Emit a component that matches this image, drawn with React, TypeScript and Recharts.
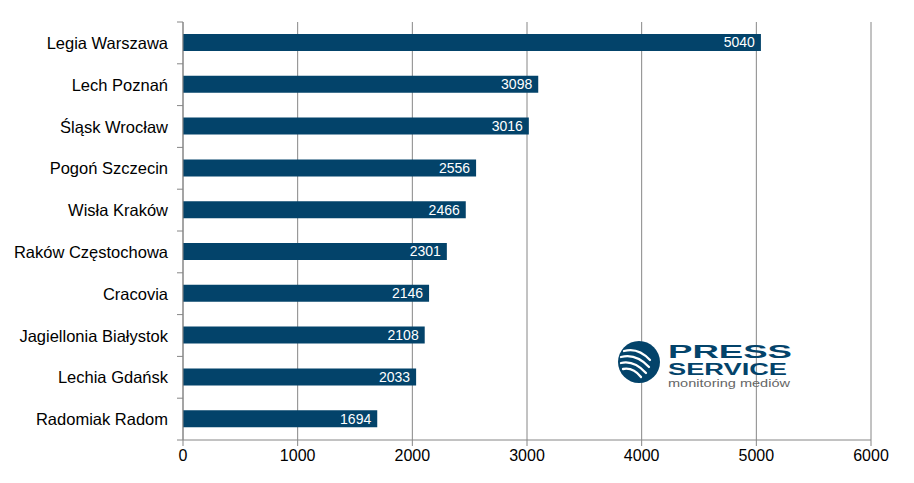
import { BarChart, Bar, XAxis, YAxis, CartesianGrid, LabelList } from "recharts";

const teams = [
  "Legia Warszawa",
  "Lech Poznań",
  "Śląsk Wrocław",
  "Pogoń Szczecin",
  "Wisła Kraków",
  "Raków Częstochowa",
  "Cracovia ",
  "Jagiellonia Białystok",
  "Lechia Gdańsk",
  "Radomiak Radom",
];
const mentions = [5040, 3098, 3016, 2556, 2466, 2301, 2146, 2108, 2033, 1694];
const xTicks = [0, 1000, 2000, 3000, 4000, 5000, 6000];

const data = teams.map((team, i) => ({ team, value: mentions[i] }));

const WIDTH = 914;
const HEIGHT = 483;
const MARGIN = { top: 22, right: 43, bottom: 13, left: 0 };
const X_AXIS_H = 30;
const BAND = (HEIGHT - MARGIN.top - MARGIN.bottom - X_AXIS_H) / teams.length;
const GRID = "#868686";
const BAR = "#03436a";
const FONT = "'Liberation Sans', Arial, sans-serif";

function CategoryTick(props: any) {
  const { x, y, payload, index } = props;
  const ax = x + 15;
  return (
    <g>
      <text x={x} y={y} dy={6} textAnchor="end" fontSize={16.5} fill="#000" fontFamily={FONT}>
        {payload.value}
      </text>
      <line x1={ax - 6} x2={ax} y1={y - BAND / 2} y2={y - BAND / 2} stroke={GRID} />
      {index === teams.length - 1 && (
        <line x1={ax - 6} x2={ax} y1={y + BAND / 2} y2={y + BAND / 2} stroke={GRID} />
      )}
    </g>
  );
}

function Logo() {
  return (
    <svg width={200} height={64} style={{ position: "absolute", left: 605, top: 330 }}>
      <circle cx={34} cy={32} r={21} fill={BAR} />
      <g fill="none" stroke="#fff" strokeLinecap="round" strokeWidth={2.3}>
        <path d="M19 21 Q33 17 45 30" />
        <path d="M16 27 Q31 23 44 37" />
        <path d="M16 33 Q29 30 41 43" />
        <path d="M18 39 Q28 37 36 47" />
      </g>
      <text x={63} y={27.5} fontFamily={FONT} fontWeight="bold" fontSize={18.5} fill={BAR} textLength={124} lengthAdjust="spacingAndGlyphs">
        PRESS
      </text>
      <text x={63} y={44.5} fontFamily={FONT} fontWeight="bold" fontSize={16} fill={BAR} textLength={119} lengthAdjust="spacingAndGlyphs">
        SERVICE
      </text>
      <text x={63} y={57} fontFamily={FONT} fontSize={11.5} fill="#666" textLength={122} lengthAdjust="spacingAndGlyphs">
        monitoring mediów
      </text>
    </svg>
  );
}

export default function App() {
  return (
    <div style={{ position: "absolute", left: 0, top: 0, width: WIDTH, height: HEIGHT, background: "#fff" }}>
      <BarChart width={WIDTH} height={HEIGHT} data={data} layout="vertical" margin={MARGIN}>
        <CartesianGrid horizontal={false} vertical stroke={GRID} />
        <XAxis
          type="number"
          domain={[0, 6000]}
          ticks={xTicks}
          interval={0}
          height={X_AXIS_H}
          tickSize={6}
          tickMargin={4}
          axisLine={{ stroke: GRID }}
          tickLine={{ stroke: GRID }}
          tick={{ fill: "#000", fontSize: 16, fontFamily: FONT }}
        />
        <YAxis
          type="category"
          dataKey="team"
          width={183}
          tickSize={0}
          tickMargin={15}
          axisLine={{ stroke: GRID }}
          tickLine={false}
          tick={<CategoryTick />}
          interval={0}
        />
        <Bar dataKey="value" fill={BAR} barSize={17} isAnimationActive={false}>
          <LabelList dataKey="value" position="insideRight" offset={6} fill="#fff" fontSize={14} fontFamily={FONT} />
        </Bar>
      </BarChart>
      <Logo />
    </div>
  );
}
